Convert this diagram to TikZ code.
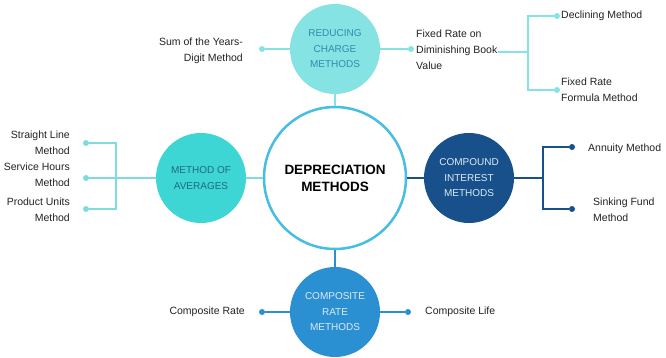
\documentclass[tikz,border=0pt]{standalone}
\usepackage{fontspec}
\setmainfont{Liberation Sans}

\definecolor{hubline}{HTML}{46BDE2}
\definecolor{rcfill}{HTML}{86E3E3}
\definecolor{rctext}{HTML}{2F8DAE}
\definecolor{avgfill}{HTML}{3ED5D5}
\definecolor{avgtext}{HTML}{1F6A8A}
\definecolor{avgline}{HTML}{7EDCDC}
\definecolor{cifill}{HTML}{17508A}
\definecolor{crfill}{HTML}{2B90D2}
\definecolor{lighttext}{HTML}{DCEBF6}
\definecolor{labelgray}{HTML}{222222}

\begin{document}
\begin{tikzpicture}[x=1pt, y=-1pt,
    hub/.style={circle, draw=hubline, line width=2.5pt, fill=white, minimum size=142pt,
        inner sep=0pt, align=center, font=\bfseries\fontsize{13.5}{17}\selectfont},
    sub/.style={circle, minimum size=90pt, inner sep=0pt, align=center,
        font=\fontsize{10}{15.5}\selectfont},
    endpt/.style={circle, fill=#1, inner sep=0pt, minimum size=6pt},
    lbl/.style={font=\fontsize{10.5}{16}\selectfont, text=labelgray, inner sep=0pt},
    link/.style={draw=#1, line width=1.6pt}]
    \useasboundingbox (0,0) rectangle (666,358);

    % Define nodes
    \node (main) at (335,178) [hub] {DEPRECIATION\\METHODS};
    \node (rc) at (335,49) [sub, fill=rcfill, text=rctext] {REDUCING\\CHARGE\\METHODS};
    \node (avg) at (201,178) [sub, fill=avgfill, text=avgtext] {METHOD OF\\AVERAGES};
    \node (ci) at (469,178) [sub, fill=cifill, text=lighttext] {COMPOUND\\INTEREST\\METHODS};
    \node (cr) at (335,312) [sub, fill=crfill, text=lighttext] {COMPOSITE\\RATE\\METHODS};

    % Define end points
    \node (dsy) at (262,49) [endpt=rcfill] {};
    \node (dfr) at (411,49) [endpt=rcfill] {};
    \node (ddm) at (557,16) [endpt=rcfill] {};
    \node (dff) at (557,90) [endpt=rcfill] {};
    \node (dsl) at (86,143) [endpt=avgline] {};
    \node (dsh) at (86,178) [endpt=avgline] {};
    \node (dpu) at (86,209) [endpt=avgline] {};
    \node (dan) at (572,147) [endpt=cifill] {};
    \node (dsf) at (572,209) [endpt=cifill] {};
    \node (dcr) at (262,312) [endpt=crfill] {};
    \node (dcl) at (408,312) [endpt=crfill] {};

    % Define labels
    \node (sy) at (243,51) [lbl, anchor=east, align=right] {Sum of the Years-\\Digit Method};
    \node (fr) at (416,50) [lbl, anchor=west, align=left] {Fixed Rate on\\Diminishing Book\\Value};
    \node (dm) at (561,16) [lbl, anchor=west] {Declining Method};
    \node (ff) at (561,90) [lbl, anchor=west, align=left] {Fixed Rate\\Formula Method};
    \node (sl) at (70,143) [lbl, anchor=east, align=right] {Straight Line\\Method};
    \node (sh) at (70,175) [lbl, anchor=east, align=right] {Service Hours\\Method};
    \node (pu) at (70,210) [lbl, anchor=east, align=right] {Product Units\\Method};
    \node (an) at (588,149) [lbl, anchor=west] {Annuity Method};
    \node (sf) at (593,210) [lbl, anchor=west, align=left] {Sinking Fund\\Method};
    \node (cra) at (245,312) [lbl, anchor=east] {Composite Rate};
    \node (cli) at (425,312) [lbl, anchor=west] {Composite Life};

    % Junctions
    \coordinate (frj) at (528,52);
    \coordinate (avgj) at (116,178);
    \coordinate (cij) at (543,178);

    % Draw connectors
    \draw[link=rcfill] (rc) -- (main);
    \draw[link=rcfill] (rc) -- (dsy);
    \draw[link=rcfill] (rc) -- (dfr);
    \draw[link=rcfill] (fr.east |- frj) -- (frj);
    \draw[link=rcfill] (ddm) -| (frj);
    \draw[link=rcfill] (dff) -| (frj);

    \draw[link=avgline] (avg) -- (main);
    \draw[link=avgline] (avg) -- (avgj);
    \draw[link=avgline] (dsl) -| (avgj);
    \draw[link=avgline] (dsh) -- (avgj);
    \draw[link=avgline] (dpu) -| (avgj);

    \draw[link=cifill] (main) -- (ci);
    \draw[link=cifill] (ci) -- (cij);
    \draw[link=cifill] (dan) -| (cij);
    \draw[link=cifill] (dsf) -| (cij);

    \draw[link=crfill] (main) -- (cr);
    \draw[link=crfill] (cr) -- (dcr);
    \draw[link=crfill] (cr) -- (dcl);
\end{tikzpicture}
\end{document}
